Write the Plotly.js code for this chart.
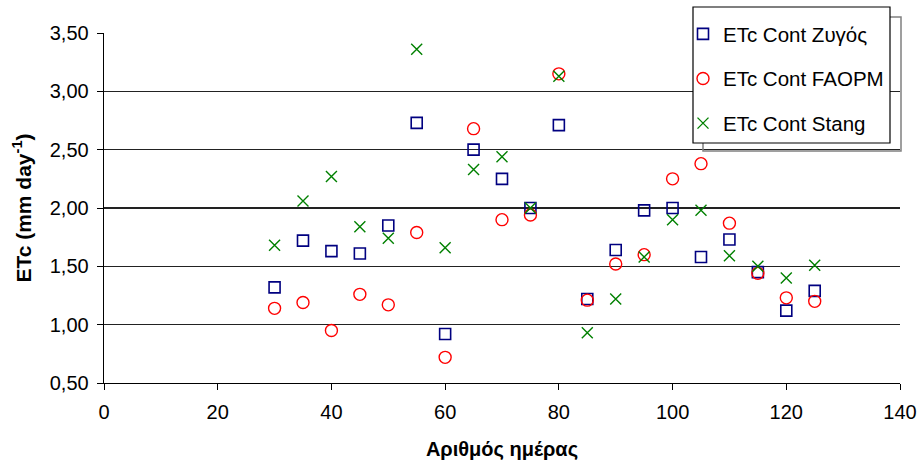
<!DOCTYPE html>
<html>
<head>
<meta charset="utf-8">
<script src="https://cdn.plot.ly/plotly-3.0.1.min.js"></script>
<style>html,body{margin:0;padding:0;background:#fff;}#chart{width:920px;height:461px;}</style>
</head>
<body>
<div id="chart"></div>
<script>
const days = [30, 35, 40, 45, 50, 55, 60, 65, 70, 75, 80, 85, 90, 95, 100, 105, 110, 115, 120, 125];
const zygos = [1.32, 1.72, 1.63, 1.61, 1.85, 2.73, 0.92, 2.50, 2.25, 2.00, 2.71, 1.22, 1.64, 1.98, 2.00, 1.58, 1.73, 1.45, 1.12, 1.29];
const faopm = [1.14, 1.19, 0.95, 1.26, 1.17, 1.79, 0.72, 2.68, 1.90, 1.94, 3.15, 1.21, 1.52, 1.60, 2.25, 2.38, 1.87, 1.44, 1.23, 1.20];
const stang = [1.68, 2.06, 2.27, 1.84, 1.74, 3.36, 1.66, 2.33, 2.44, 2.00, 3.13, 0.93, 1.22, 1.58, 1.90, 1.98, 1.59, 1.50, 1.40, 1.51];
const seriesNames = ['ETc Cont Zυγός', 'ETc Cont FAOPM', 'ETc Cont Stang'];
const xTicks = [0, 20, 40, 60, 80, 100, 120, 140];
const yTicks = [0.5, 1.0, 1.5, 2.0, 2.5, 3.0, 3.5];

const font = '"Liberation Sans", Arial, sans-serif';
const W = 920, H = 461, L = 104, R = 20, T = 33, B = 78;
const pw = W - L - R, ph = H - T - B;
const px = v => (v - L) / pw;          // pixel x -> paper x
const py = v => (H - B - v) / ph;      // pixel y -> paper y

const traces = [
  {x: days, y: zygos, name: seriesNames[0], legendgroup: 'a', mode: 'markers', type: 'scatter',
   marker: {symbol: 'square-open', size: 11, color: '#000080', line: {width: 1.6}}},
  {x: days, y: faopm, name: seriesNames[1], legendgroup: 'b', mode: 'markers', type: 'scatter',
   marker: {symbol: 'circle-open', size: 12, color: '#FF0000', line: {width: 1.4}}},
  {x: days, y: stang, name: seriesNames[2], legendgroup: 'c', mode: 'markers', type: 'scatter',
   marker: {symbol: 'x-thin-open', size: 11, color: '#008000', line: {width: 1.4}}}
];
const layout = {
  width: W, height: H,
  margin: {l: L, r: R, t: T, b: B, autoexpand: false},
  paper_bgcolor: '#fff', plot_bgcolor: '#fff',
  separators: ',.',
  font: {family: font, size: 20, color: '#000'},
  showlegend: true,
  legend: {xref: 'container', yref: 'container', x: 683 / W, y: 1 - 14 / H, xanchor: 'left', yanchor: 'top',
           bgcolor: 'rgba(0,0,0,0)', borderwidth: 0, font: {family: font, size: 20.5, color: '#000'},
           traceorder: 'grouped', tracegroupgap: 15, itemwidth: 30},
  xaxis: {range: [0, 140], tickvals: xTicks, ticktext: xTicks.map(String), showgrid: false, zeroline: false,
          showline: true, linecolor: '#000', linewidth: 1.3, ticks: 'outside', ticklen: 6, tickcolor: '#000',
          tickfont: {family: font, size: 20}, ticklabelstandoff: 5, fixedrange: true,
          title: {text: 'Αριθμός ημέρας', font: {family: font, size: 20, weight: 'bold'}, standoff: 19}},
  yaxis: {range: [0.5, 3.5], tickvals: yTicks, tickformat: '.2f', showgrid: true, gridcolor: '#222', gridwidth: 1.2,
          zeroline: false, showline: true, linecolor: '#000', linewidth: 1.3, ticks: 'outside', ticklen: 6,
          tickcolor: '#000', tickfont: {family: font, size: 20}, ticklabelstandoff: 4, fixedrange: true,
          title: {text: 'ETc (mm day<sup>-1</sup>)', font: {family: font, size: 21, weight: 'bold'}, standoff: 12}},
  shapes: [
    {type: 'rect', xref: 'paper', yref: 'paper', x0: px(703), x1: px(901), y0: py(151), y1: py(17),
     line: {color: '#808080', width: 1.5}, fillcolor: 'rgba(0,0,0,0)', layer: 'above'},
    {type: 'rect', xref: 'paper', yref: 'paper', x0: px(693), x1: px(890), y0: py(143), y1: py(7),
     line: {color: '#000', width: 1.2}, fillcolor: '#fff', layer: 'above'}
  ]
};
Plotly.newPlot('chart', traces, layout, {staticPlot: true});
</script>
</body>
</html>
